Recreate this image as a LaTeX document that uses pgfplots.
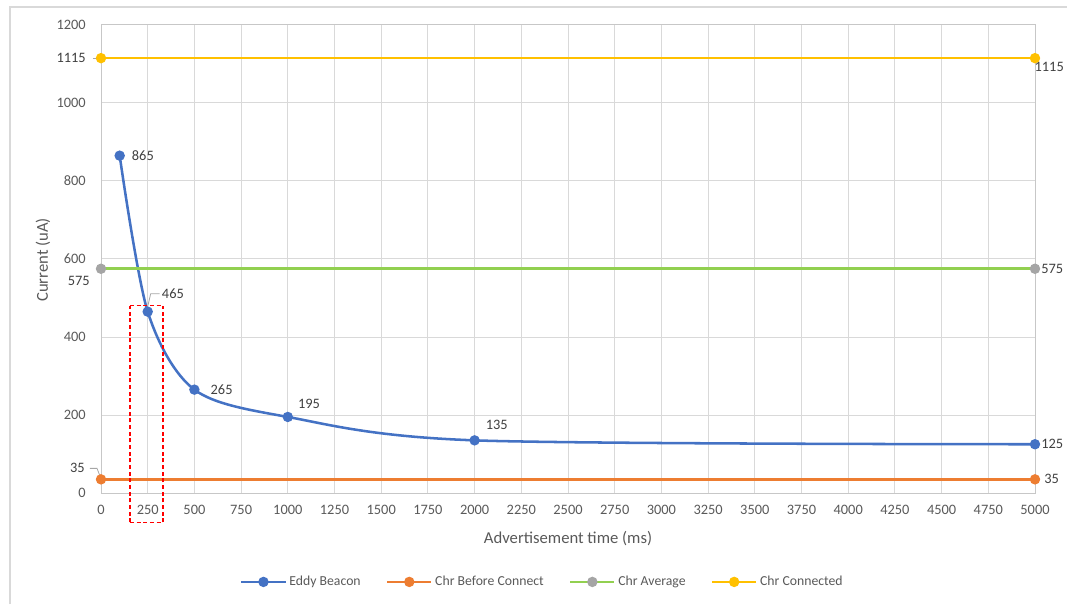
\documentclass[border=0pt]{standalone}
\usepackage{fontspec}
\setmainfont{Carlito}
\usepackage{pgfplots}
\pgfplotsset{compat=1.18}

\definecolor{eddy}{HTML}{4472C4}
\definecolor{before}{HTML}{ED7D31}
\definecolor{avgline}{HTML}{92D050}
\definecolor{avgmark}{HTML}{A5A5A5}
\definecolor{conn}{HTML}{FFC000}
\definecolor{gridgray}{HTML}{D9D9D9}
\definecolor{framegray}{HTML}{D9D9D9}
\definecolor{ticktext}{HTML}{595959}
\definecolor{labeltext}{HTML}{404040}
\definecolor{leader}{HTML}{A6A6A6}
\definecolor{hilite}{HTML}{FF0000}

\newcommand\tickfont{\fontsize{10.8}{13}\selectfont}
\newcommand\titlefont{\fontsize{12.5}{15}\selectfont}
\newcommand\legendfont{\fontsize{10.3}{12}\selectfont}

\begin{document}
\begin{tikzpicture}[x=0.75pt,y=0.75pt]
\useasboundingbox (0,0) rectangle (1067,604);
% chart frame
\draw[framegray, line width=0.9pt] (10,0) -- (10,597) -- (1067,597);

\begin{axis}[
  at={(75.75pt,83.25pt)}, anchor=south west,
  scale only axis, width=700.5pt, height=351pt,
  clip=false,
  xmin=0, xmax=5000, ymin=0, ymax=1200,
  xtick={0,250,...,5000}, ytick={0,200,...,1200},
  scaled x ticks=false,
  /pgf/number format/fixed,
  /pgf/number format/1000 sep={},
  /pgf/number format/assume math mode=true,
  grid=major, major grid style={gridgray, line width=0.75pt},
  axis line style={gridgray!80!gray, line width=0.75pt},
  tick style={draw=none},
  font=\tickfont,
  every tick label/.append style={text=ticktext, inner sep=0pt, font=\tickfont},
  yticklabel style={anchor=east, xshift=-11.25pt},
  xticklabel style={anchor=center, yshift=-13pt},
  xlabel={Advertisement time (ms)},
  ylabel={Current (uA)},
  xlabel style={at={(axis description cs:0.5,0)}, anchor=center, yshift=-34pt,
    text=ticktext, inner sep=0pt, font=\titlefont},
  ylabel style={at={(axis description cs:-0.0621,0.498)}, anchor=center,
    text=ticktext, inner sep=0pt, font=\titlefont},
  legend columns=4,
  legend style={at={(axis description cs:0.473,-0.19)}, anchor=center, draw=none,
    fill=none, text=ticktext, font=\legendfont,
    /tikz/every even column/.append style={column sep=17pt}},
  legend cell align=left,
  legend image code/.code={%
    \draw[#1, mark repeat=2, mark phase=2] plot coordinates {(0pt,0pt) (16.5pt,0pt) (33pt,0pt)};},
  every axis plot/.append style={line width=1.9pt, mark=*, mark size=2.9pt},
]

\addplot[eddy, smooth, mark options={fill=eddy, draw=eddy}] coordinates {
  (100,865) (250,465) (500,265) (1000,195) (2000,135) (5000,125)};
\addlegendentry{Eddy Beacon}

\addplot[before, mark options={fill=before, draw=before}] coordinates {
  (0,35) (5000,35)};
\addlegendentry{Chr Before Connect}

\addplot[avgline, mark options={fill=avgmark, draw=avgmark}] coordinates {
  (0,575) (5000,575)};
\addlegendentry{Chr Average}

\addplot[conn, mark options={fill=conn, draw=conn}] coordinates {
  (0,1115) (5000,1115)};
\addlegendentry{Chr Connected}

% value labels, Eddy Beacon
\begin{scope}[every node/.style={text=labeltext, inner sep=0pt, font=\tickfont}]
  \node[anchor=west] at ([xshift=9pt]axis cs:100,865) {865};
  \draw[leader, line width=0.6pt] ([yshift=3.75pt]axis cs:250,465) -- ([xshift=2.25pt,yshift=13.5pt]axis cs:250,465) -- ([xshift=9pt,yshift=13.5pt]axis cs:250,465);
  \node[anchor=west] at ([xshift=10.5pt,yshift=13.5pt]axis cs:250,465) {465};
  \node[anchor=west] at ([xshift=12pt]axis cs:500,265) {265};
  \node[anchor=west] at ([xshift=7.5pt,yshift=9.75pt]axis cs:1000,195) {195};
  \node[anchor=west] at ([xshift=8.25pt,yshift=11.25pt]axis cs:2000,135) {135};
  \node[anchor=west] at ([xshift=4.5pt]axis cs:5000,125) {125};

  % value labels, constant series at the right end
  \node[anchor=west] at ([xshift=6.75pt]axis cs:5000,35) {35};
  \node[anchor=west] at ([xshift=4.5pt]axis cs:5000,575) {575};
  \node[anchor=north west] at ([xshift=-0.5pt,yshift=-2.5pt]axis cs:5000,1115) {1115};

  % value labels, constant series at the left end
  \draw[leader, line width=0.6pt] ([xshift=-6pt]axis cs:0,1115) -- ([xshift=-1.5pt]axis cs:0,1115);
  \node[anchor=east] at ([xshift=-11.25pt]axis cs:0,1115) {1115};
  \node[anchor=east] at ([xshift=-8.25pt,yshift=-9pt]axis cs:0,575) {575};
  \draw[leader, line width=0.6pt] ([xshift=-8.25pt,yshift=8.25pt]axis cs:0,35) -- ([xshift=-3pt,yshift=8.25pt]axis cs:0,35) -- ([xshift=-0.75pt,yshift=2.5pt]axis cs:0,35);
  \node[anchor=east] at ([xshift=-12pt,yshift=8.25pt]axis cs:0,35) {35};
\end{scope}

% highlighted interval around 250 ms
\begin{scope}[hilite, line width=1pt, dash pattern=on 3pt off 2pt, line cap=butt]
  \draw[color=hilite] (axis cs:155,480) -- (axis cs:332,480);
  \draw[color=hilite] (axis cs:155,-75) -- (axis cs:332,-75);
  \draw[color=hilite] (axis cs:155,-75) -- (axis cs:155,480);
  \draw[color=hilite] (axis cs:332,-75) -- (axis cs:332,480);
\end{scope}

\end{axis}
\end{tikzpicture}
\end{document}
